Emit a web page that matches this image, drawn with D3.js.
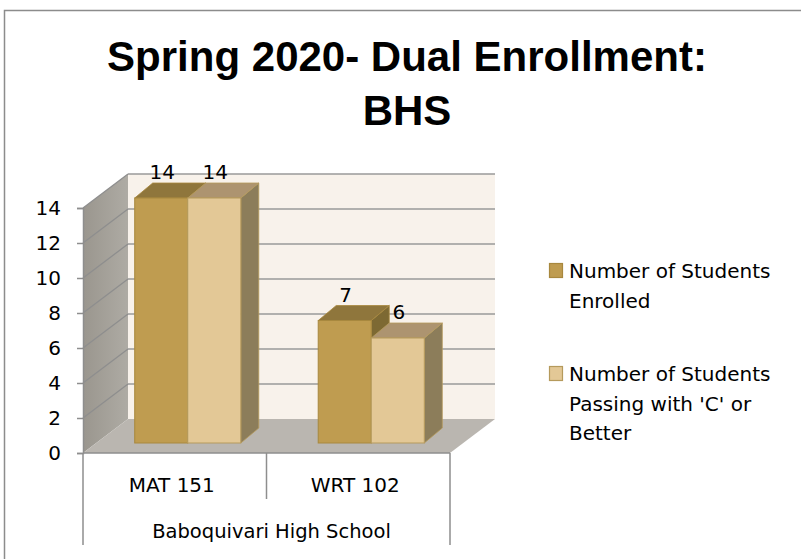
<!DOCTYPE html>
<html>
<head>
<meta charset="utf-8">
<script src="https://cdn.jsdelivr.net/npm/d3@7"></script>
<style>
  body { margin: 0; background: #fff; }
  svg text { font-family: "DejaVu Sans", "Open Sans", sans-serif; fill: #000; }
  .title { font-family: "Liberation Sans", Arial, sans-serif; font-weight: bold; }
</style>
</head>
<body>
<div id="chart"></div>
<script>
// chart data
const titleLines = ["Spring 2020- Dual Enrollment:", "BHS"];
const categories = ["MAT 151", "WRT 102"];
const groupLabel = "Baboquivari High School";
const seriesNames = [
    ["Number of Students", "Enrolled"],
    ["Number of Students", "Passing with 'C' or", "Better"]
];
const enrolled = [14, 7];
const passing = [14, 6];
const yTicks = [0, 2, 4, 6, 8, 10, 12, 14];

const width = 801, height = 559;

// front plane of the plot and depth offset of the 3d box
const plot = {left: 83, right: 450, top: 208, bottom: 453};
const depth = {dx: 45, dy: -34};
// bars sit partway into the box
const barOffset = {dx: 13, dy: -10};
const barDepth = {dx: 18, dy: -15};

const colors = [
    {front: "#bf9c50", top: "#8f763c", side: "#7d6933", stroke: "#a8883e"},
    {front: "#e3c896", top: "#ad9470", side: "#8c7d5a", stroke: "#b59a5c"}
];

const svg = d3.select("#chart").append("svg")
    .attr("width", width)
    .attr("height", height);

// outer chart border
svg.append("rect")
    .attr("x", 4.5).attr("y", 10.5)
    .attr("width", width + 10).attr("height", height + 10)
    .attr("fill", "none")
    .attr("stroke", "#8c8c8c")
    .attr("stroke-width", 1.5);

// title
svg.selectAll(".title")
    .data(titleLines)
    .enter().append("text")
    .attr("class", "title")
    .attr("x", 407)
    .attr("y", (d, i) => 71 + i * 54)
    .attr("text-anchor", "middle")
    .style("font-size", "42px")
    .text(d => d);

// scales
const y = d3.scaleLinear().domain([0, 14]).range([plot.bottom, plot.top]);
const x = d3.scaleBand().domain(categories).range([plot.left, plot.right]).paddingInner(0).paddingOuter(0);
const xInner = d3.scaleBand().domain([0, 1]).range([0, x.bandwidth()]).paddingOuter(0.73).paddingInner(0);

const pts = p => p.map(d => d.join(",")).join(" ");

// walls
const defs = svg.append("defs");
const wallGrad = defs.append("linearGradient").attr("id", "wallGrad")
    .attr("x1", 0).attr("x2", 1).attr("y1", 0).attr("y2", 0);
wallGrad.append("stop").attr("offset", "0%").attr("stop-color", "#9a968e");
wallGrad.append("stop").attr("offset", "100%").attr("stop-color", "#aeaba4");

const y0 = y(0), yMax = y(14);
svg.append("polygon")
    .attr("points", pts([[plot.left + depth.dx, yMax + depth.dy], [plot.right + depth.dx, yMax + depth.dy],
        [plot.right + depth.dx, y0 + depth.dy], [plot.left + depth.dx, y0 + depth.dy]]))
    .attr("fill", "#f8f2eb");

svg.append("polygon")
    .attr("points", pts([[plot.left, y0], [plot.left, yMax], [plot.left + depth.dx, yMax + depth.dy], [plot.left + depth.dx, y0 + depth.dy]]))
    .attr("fill", "url(#wallGrad)");

svg.append("polygon")
    .attr("points", pts([[plot.left, y0], [plot.right, y0], [plot.right + depth.dx, y0 + depth.dy], [plot.left + depth.dx, y0 + depth.dy]]))
    .attr("fill", "#bab6b0");

// gridlines on side wall and back wall
const grid = svg.append("g").attr("class", "grid");
grid.selectAll(".gside")
    .data(yTicks.filter(d => d > 0))
    .enter().append("line")
    .attr("x1", plot.left).attr("y1", d => y(d))
    .attr("x2", plot.left + depth.dx).attr("y2", d => y(d) + depth.dy)
    .attr("stroke", "#8e8e8e").attr("stroke-width", 1.3);
grid.selectAll(".gback")
    .data(yTicks.filter(d => d > 0))
    .enter().append("line")
    .attr("x1", plot.left + depth.dx).attr("y1", d => y(d) + depth.dy)
    .attr("x2", plot.right + depth.dx).attr("y2", d => y(d) + depth.dy)
    .attr("stroke", "#9a9a9a").attr("stroke-width", 1.6);

// y axis
const yAxis = svg.append("g")
    .attr("transform", `translate(${plot.left},0)`)
    .call(d3.axisLeft(y).tickValues(yTicks).tickSize(6).tickPadding(16).tickFormat(d3.format("d")));
yAxis.select(".domain").attr("stroke", "#8e8e8e").attr("stroke-width", 1.5);
yAxis.selectAll(".tick line").attr("stroke", "#8e8e8e").attr("stroke-width", 1.5);
yAxis.selectAll(".tick text").style("font-size", "20px").style("font-family", null).attr("fill", "#000");

// category axis with group row
const xAxis = svg.append("g");
xAxis.append("line")
    .attr("x1", plot.left).attr("x2", plot.right)
    .attr("y1", y0).attr("y2", y0)
    .attr("stroke", "#8e8e8e").attr("stroke-width", 1.5);
const seps = [plot.left, x(categories[1]), plot.right];
xAxis.selectAll(".sep")
    .data(seps)
    .enter().append("line")
    .attr("x1", d => d).attr("x2", d => d)
    .attr("y1", y0)
    .attr("y2", (d, i) => i === 1 ? 499 : 545)
    .attr("stroke", "#8e8e8e").attr("stroke-width", 1.5);
xAxis.selectAll(".cat")
    .data(categories)
    .enter().append("text")
    .attr("x", d => x(d) + x.bandwidth() / 2 - 3)
    .attr("y", 492)
    .attr("text-anchor", "middle")
    .style("font-size", "20px")
    .text(d => d);
xAxis.append("text")
    .attr("x", (plot.left + plot.right) / 2 + 5)
    .attr("y", 538)
    .attr("text-anchor", "middle")
    .style("font-size", "19.5px")
    .text(groupLabel);

// 3d bars
const barData = [];
categories.forEach((c, i) => {
    [enrolled[i], passing[i]].forEach((v, s) => {
        const x0 = x(c) + xInner(s) + barOffset.dx;
        barData.push({cat: c, s: s, value: v,
            x0: x0, x1: x0 + xInner.bandwidth(),
            yT: y(v) + barOffset.dy, yB: y0 + barOffset.dy});
    });
});

const bars = svg.append("g").attr("class", "bars");
barData.forEach(d => {
    const c = colors[d.s];
    const g = bars.append("g");
    g.append("polygon")
        .attr("points", pts([[d.x1, d.yT], [d.x1 + barDepth.dx, d.yT + barDepth.dy],
            [d.x1 + barDepth.dx, d.yB + barDepth.dy], [d.x1, d.yB]]))
        .attr("fill", c.side).attr("stroke", c.stroke).attr("stroke-width", 0.8);
    g.append("polygon")
        .attr("points", pts([[d.x0, d.yT], [d.x1, d.yT], [d.x1 + barDepth.dx, d.yT + barDepth.dy], [d.x0 + barDepth.dx, d.yT + barDepth.dy]]))
        .attr("fill", c.top).attr("stroke", c.stroke).attr("stroke-width", 0.8);
    g.append("rect")
        .attr("x", d.x0).attr("y", d.yT)
        .attr("width", d.x1 - d.x0).attr("height", d.yB - d.yT)
        .attr("fill", c.front).attr("stroke", c.stroke).attr("stroke-width", 1);
});

// data labels
svg.append("g").selectAll("text")
    .data(barData)
    .enter().append("text")
    .attr("x", d => (d.x0 + d.x1) / 2 + 1)
    .attr("y", d => d.yT - 19)
    .attr("text-anchor", "middle")
    .style("font-size", "20px")
    .text(d => d.value);

// legend
const legendTop = [263, 366];
const legend = svg.append("g").attr("class", "legend");
seriesNames.forEach((lines, s) => {
    legend.append("rect")
        .attr("x", 549.5).attr("y", legendTop[s] + 0.5)
        .attr("width", 13).attr("height", 14)
        .attr("fill", colors[s].front)
        .attr("stroke", colors[s].stroke).attr("stroke-width", 1.2);
    legend.append("text")
        .attr("x", 569)
        .attr("y", legendTop[s] + 15)
        .style("font-size", "20px")
        .selectAll("tspan")
        .data(lines)
        .enter().append("tspan")
        .attr("x", 569)
        .attr("dy", (d, i) => i === 0 ? 0 : 29.5)
        .text(d => d);
});
</script>
</body>
</html>
